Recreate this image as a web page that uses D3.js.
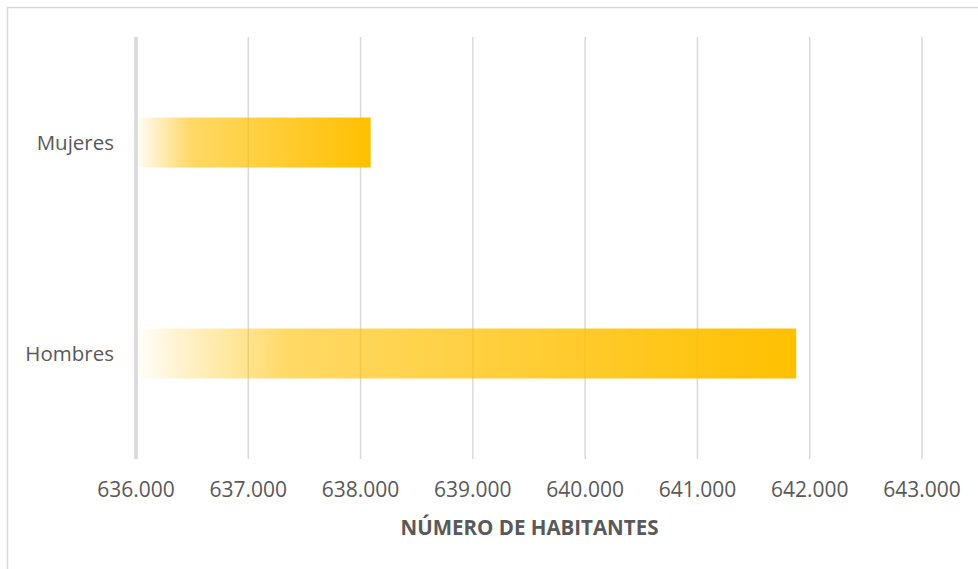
<!DOCTYPE html>
<html>
<head>
<meta charset="utf-8">
<script src="https://cdn.jsdelivr.net/npm/d3@7"></script>
<style>
  body { margin: 0; background: #fff; }
  svg { display: block; }
</style>
</head>
<body>
<div id="chart"></div>
<script>
'use strict';

// data
const categories = ['Mujeres', 'Hombres'];
const habitantes = [638090, 641880];
const xTicks = [636000, 637000, 638000, 639000, 640000, 641000, 642000, 643000];
const axisTitle = 'NÚMERO DE HABITANTES';

const W = 978, H = 569;
const textColor = '#595959';
const gridColor = '#d9d9d9';

const es = d3.formatLocale({decimal: ',', thousands: '.', grouping: [3], currency: ['', ' €']});
const fmt = es.format(',.0f');

const svg = d3.select('#chart')
  .append('svg')
  .attr('width', W)
  .attr('height', H);

// chart frame (runs off right and bottom)
svg.append('rect')
  .attr('x', 7.5).attr('y', 7.5)
  .attr('width', 1000).attr('height', 600)
  .style('fill', 'none')
  .style('stroke', gridColor)
  .style('stroke-width', 1.5);

const x = d3.scaleLinear()
  .domain([636000, 643000])
  .range([136, 922]);

const y = d3.scaleBand()
  .domain(categories)
  .range([37, 459])
  .padding(0);

const barH = y.bandwidth() * 0.237;

const defs = svg.append('defs');
const grad = defs.append('linearGradient')
  .attr('id', 'barfill')
  .attr('x1', '0%').attr('x2', '100%')
  .attr('y1', '0%').attr('y2', '0%');
[[0, 0.02], [0.23, 0.6], [1, 1]].forEach(s => {
  grad.append('stop')
    .attr('offset', s[0])
    .attr('stop-color', '#ffc000')
    .attr('stop-opacity', s[1]);
});

// gridlines
svg.append('g')
  .selectAll('line')
  .data(xTicks.slice(1))
  .enter()
  .append('line')
  .attr('x1', d => x(d)).attr('x2', d => x(d))
  .attr('y1', y.range()[0]).attr('y2', y.range()[1])
  .style('stroke', gridColor)
  .style('stroke-width', 1.5);

// bars
svg.append('g')
  .selectAll('rect')
  .data(categories.map((c, i) => ({cat: c, val: habitantes[i]})))
  .enter()
  .append('rect')
  .attr('x', x(636000))
  .attr('y', d => y(d.cat) + (y.bandwidth() - barH) / 2)
  .attr('width', d => x(d.val) - x(636000))
  .attr('height', barH)
  .style('fill', 'url(#barfill)');

// vertical axis line
svg.append('line')
  .attr('x1', x(636000)).attr('x2', x(636000))
  .attr('y1', y.range()[0]).attr('y2', y.range()[1])
  .style('stroke', gridColor)
  .style('stroke-width', 3.5);

// category labels
svg.append('g')
  .selectAll('text')
  .data(categories)
  .enter()
  .append('text')
  .text(d => d)
  .attr('x', 114)
  .attr('y', d => y(d) + y.bandwidth() / 2)
  .attr('dy', '0.35em')
  .attr('text-anchor', 'end')
  .style('font-family', 'Open Sans, sans-serif')
  .style('font-size', '20.5px')
  .style('fill', textColor);

// tick labels
svg.append('g')
  .selectAll('text')
  .data(xTicks)
  .enter()
  .append('text')
  .text(d => fmt(d))
  .attr('x', d => x(d))
  .attr('y', 490)
  .attr('dy', '0.35em')
  .attr('text-anchor', 'middle')
  .style('font-family', 'Open Sans, sans-serif')
  .style('font-size', '21px')
  .style('fill', textColor);

// axis title
svg.append('text')
  .text(axisTitle)
  .attr('x', 529.5)
  .attr('y', 528)
  .attr('dy', '0.35em')
  .attr('text-anchor', 'middle')
  .style('font-family', 'Open Sans, sans-serif')
  .style('font-weight', 'bold')
  .style('font-size', '20.5px')
  .style('fill', textColor);
</script>
</body>
</html>
